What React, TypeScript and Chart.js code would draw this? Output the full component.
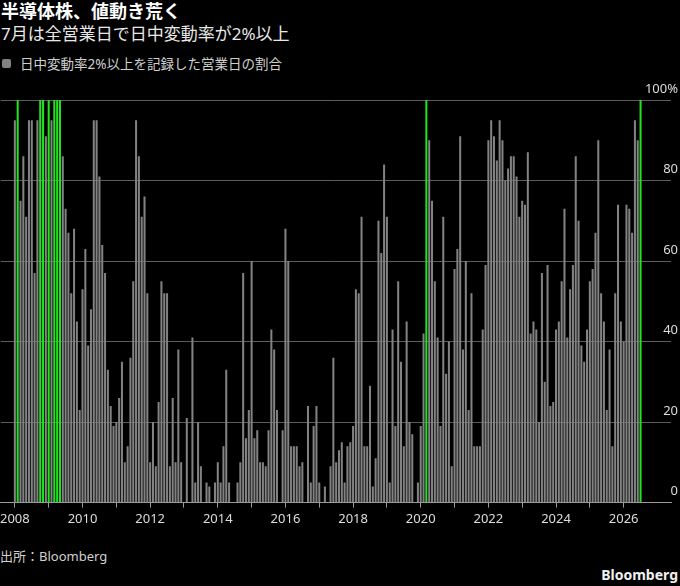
import { useEffect, useRef } from "react";
import { Chart, registerables } from "chart.js";

Chart.register(...registerables);

const startYear = 2008;

// share of trading days (%) with an intraday move of 2% or more, one value per month
const share2008 = [95, 100, 75, 86, 71, 95, 95, 57, 95, 100, 100, 91];
const share2009 = [100, 95, 100, 100, 100, 86, 73, 67, 52, 68, 45, 23];
const share2010 = [53, 63, 39, 48, 95, 95, 81, 64, 57, 33, 24, 19];
const share2011 = [20, 26, 35, 10, 14, 36, 55, 95, 86, 71, 76, 52];
const share2012 = [10, 20, 9, 25, 55, 52, 52, 9, 26, 10, 38, 10];
const share2013 = [0, 21, 0, 41, 5, 20, 9, 0, 5, 4, 0, 5];
const share2014 = [10, 5, 14, 33, 5, 0, 0, 5, 10, 57, 16, 23];
const share2015 = [60, 16, 18, 10, 10, 9, 18, 43, 38, 23, 0, 18];
const share2016 = [68, 60, 14, 14, 14, 9, 10, 0, 24, 5, 19, 24];
const share2017 = [5, 0, 4, 0, 9, 36, 10, 13, 15, 5, 14, 15];
const share2018 = [19, 53, 52, 71, 14, 14, 29, 4, 11, 70, 62, 84];
const share2019 = [71, 5, 43, 19, 55, 35, 14, 45, 20, 17, 0, 5];
const share2020 = [19, 42, 100, 90, 75, 55, 41, 19, 71, 32, 40, 9];
const share2021 = [58, 63, 91, 38, 60, 23, 52, 14, 14, 14, 43, 59];
const share2022 = [90, 95, 91, 85, 95, 90, 80, 83, 86, 86, 81, 71];
const share2023 = [75, 74, 87, 42, 45, 43, 20, 57, 30, 59, 24, 25];
const share2024 = [43, 45, 55, 73, 41, 53, 59, 86, 70, 39, 35, 43];
const share2025 = [55, 58, 67, 90, 52, 45, 23, 38, 14, 52, 74, 45];
const share2026 = [40, 74, 73, 67, 95, 90, 100];

const monthlyShare = [
  ...share2008, ...share2009, ...share2010, ...share2011, ...share2012,
  ...share2013, ...share2014, ...share2015, ...share2016, ...share2017,
  ...share2018, ...share2019, ...share2020, ...share2021, ...share2022,
  ...share2023, ...share2024, ...share2025, ...share2026,
];

// a tick mark every year, a label every other year
const yearTicks = [
  2008, 2009, 2010, 2011, 2012, 2013, 2014, 2015, 2016, 2017,
  2018, 2019, 2020, 2021, 2022, 2023, 2024, 2025, 2026,
];
const yearLabels = ["2008", "2010", "2012", "2014", "2016", "2018", "2020", "2022", "2024", "2026"];
const yTicks = [0, 20, 40, 60, 80, 100];

const legendLabel = "日中変動率2%以上を記録した営業日の割合";
const gray = "#828282";
const green = "#22e322";
const font = '"Noto Sans", "Noto Sans CJK JP", sans-serif';

export default function App() {
  const canvasRef = useRef<HTMLCanvasElement>(null);
  const chartRef = useRef<Chart | null>(null);

  useEffect(() => {
    if (!canvasRef.current) return;
    if (chartRef.current) chartRef.current.destroy();

    const points = monthlyShare.map((v, i) => ({ x: i, y: v }));

    chartRef.current = new Chart(canvasRef.current, {
      type: "bar",
      data: {
        datasets: [
          {
            label: legendLabel,
            data: points,
            backgroundColor: monthlyShare.map((v) => (v >= 100 ? green : gray)),
            borderWidth: 0,
            barPercentage: 0.72,
            categoryPercentage: 1,
          },
        ],
      },
      options: {
        animation: false,
        responsive: true,
        maintainAspectRatio: false,
        layout: { padding: { top: 22, right: 3, bottom: 7, left: 0 } },
        plugins: {
          legend: { display: false },
          tooltip: { enabled: false },
        },
        scales: {
          x: {
            type: "linear",
            offset: false,
            min: -5,
            max: 232.8,
            afterBuildTicks: (axis) => {
              axis.ticks = yearTicks.map((y) => ({ value: (y - startYear) * 12 }));
            },
            grid: {
              offset: false,
              drawOnChartArea: false,
              drawTicks: true,
              tickLength: 5,
              tickColor: "#9a9a9a",
            },
            border: { color: "#9a9a9a", width: 1 },
            ticks: {
              autoSkip: false,
              maxRotation: 0,
              padding: 0,
              color: "#dcdcdc",
              font: { family: font, size: 13, lineHeight: 1.8 },
              callback: (value) => {
                const label = String(startYear + Number(value) / 12);
                return yearLabels.includes(label) ? label : "";
              },
            },
          },
          y: {
            position: "right",
            min: 0,
            max: 100,
            afterBuildTicks: (axis) => {
              axis.ticks = yTicks.map((v) => ({ value: v }));
            },
            grid: { color: "#5c5c5c", drawTicks: false, tickLength: 0 },
            border: { display: false },
            ticks: {
              mirror: true,
              padding: 7,
              labelOffset: -11,
              color: "#dcdcdc",
              font: { family: font, size: 13 },
              callback: (value) => (value === 100 ? "100%" : String(value)),
            },
          },
        },
      },
    });

    return () => {
      if (chartRef.current) {
        chartRef.current.destroy();
        chartRef.current = null;
      }
    };
  }, []);

  return (
    <div
      style={{
        position: "fixed",
        left: 0,
        top: 0,
        width: 680,
        height: 586,
        background: "#000",
        fontFamily: font,
        overflow: "hidden",
      }}
    >
      <div
        style={{
          position: "absolute",
          left: 1,
          top: -1,
          color: "#fff",
          fontSize: 18,
          fontWeight: 700,
          lineHeight: "24px",
          whiteSpace: "nowrap",
        }}
      >
        半導体株、値動き荒く
      </div>
      <div
        style={{
          position: "absolute",
          left: 1,
          top: 22,
          color: "#e8e8e8",
          fontSize: 17,
          lineHeight: "24px",
          whiteSpace: "nowrap",
        }}
      >
        7月は全営業日で日中変動率が2%以上
      </div>
      <div
        style={{
          position: "absolute",
          left: 2,
          top: 59,
          width: 9,
          height: 9,
          borderRadius: 2,
          background: gray,
        }}
      />
      <div
        style={{
          position: "absolute",
          left: 20,
          top: 55,
          color: "#d0d0d0",
          fontSize: 13.5,
          lineHeight: "18px",
          whiteSpace: "nowrap",
        }}
      >
        {legendLabel}
      </div>
      <div style={{ position: "absolute", left: 0, top: 78, width: 688, height: 460 }}>
        <canvas ref={canvasRef} />
      </div>
      <div
        style={{
          position: "absolute",
          left: 0,
          top: 547,
          color: "#d0d0d0",
          fontSize: 13,
          lineHeight: "18px",
          whiteSpace: "nowrap",
        }}
      >
        出所：Bloomberg
      </div>
      <div
        style={{
          position: "absolute",
          right: 2,
          top: 566,
          color: "#f0f0f0",
          fontSize: 14,
          fontWeight: 700,
          lineHeight: "18px",
          whiteSpace: "nowrap",
        }}
      >
        Bloomberg
      </div>
    </div>
  );
}
